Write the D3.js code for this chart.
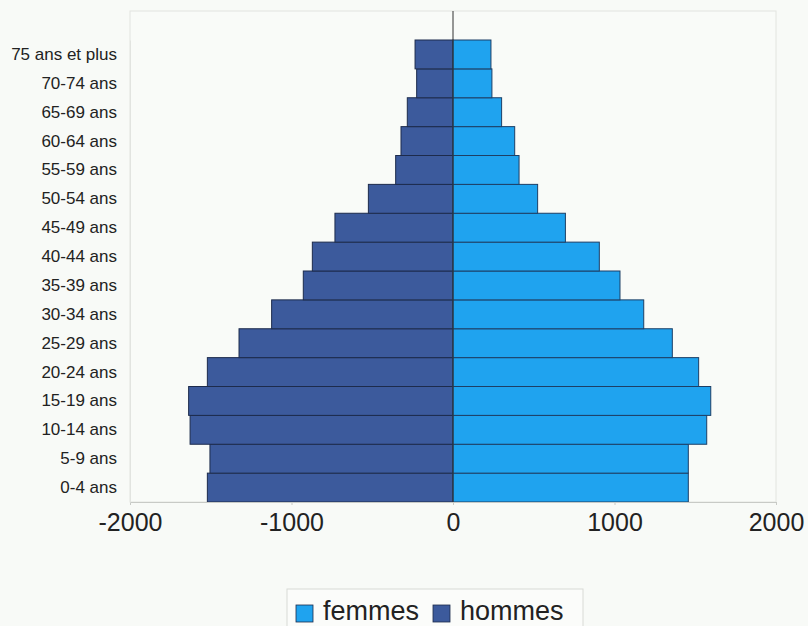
<!DOCTYPE html>
<html>
<head>
<meta charset="utf-8">
<script src="https://cdn.jsdelivr.net/npm/d3@7"></script>
<style>
  body { margin: 0; background: #f8faf7; }
  text { font-family: Arial, "Liberation Sans", sans-serif; fill: #222; }
</style>
</head>
<body>
<div id="chart"></div>
<script>
// Age groups, bottom to top
const ageGroups = ["0-4 ans", "5-9 ans", "10-14 ans", "15-19 ans", "20-24 ans", "25-29 ans",
  "30-34 ans", "35-39 ans", "40-44 ans", "45-49 ans", "50-54 ans", "55-59 ans",
  "60-64 ans", "65-69 ans", "70-74 ans", "75 ans et plus"];
// hommes drawn as negative values
const hommes = [-1521, -1505, -1628, -1637, -1521, -1325, -1123, -927, -871, -731, -524, -355, -322, -283, -225, -235];
const femmes = [1457, 1457, 1571, 1596, 1521, 1358, 1181, 1034, 906, 696, 524, 409, 382, 301, 241, 235];
const xTicks = [-2000, -1000, 0, 1000, 2000];
const seriesNames = ["femmes", "hommes"];
const colors = { femmes: "#1fa3ef", hommes: "#3c5a9c" };

const W = 808, H = 626;
const plot = { left: 130, right: 776, top: 11, bottom: 502 };

const svg = d3.select("#chart").append("svg")
  .attr("width", W).attr("height", H);

// plot area frame
svg.append("rect")
  .attr("x", plot.left).attr("y", plot.top)
  .attr("width", plot.right - plot.left).attr("height", plot.bottom - plot.top)
  .attr("fill", "#f9fbf8").attr("stroke", "#e2e4e0");

const x = d3.scaleLinear().domain([-2000, 2000]).range([plot.left, plot.right]);
const y = d3.scaleBand().domain(ageGroups).range([plot.bottom, 40]).padding(0);

const rows = ageGroups.map((g, i) => ({ g, h: hommes[i], f: femmes[i] }));

// hommes bars
svg.selectAll(".bar-h")
  .data(rows)
  .join("rect")
  .attr("class", "bar-h")
  .attr("x", d => x(d.h))
  .attr("y", d => y(d.g))
  .attr("width", d => x(0) - x(d.h))
  .attr("height", y.bandwidth())
  .attr("fill", colors.hommes)
  .attr("stroke", "#1d2b4c").attr("stroke-width", 1);

// femmes bars
svg.selectAll(".bar-f")
  .data(rows)
  .join("rect")
  .attr("class", "bar-f")
  .attr("x", x(0))
  .attr("y", d => y(d.g))
  .attr("width", d => x(d.f) - x(0))
  .attr("height", y.bandwidth())
  .attr("fill", colors.femmes)
  .attr("stroke", "#1d3f66").attr("stroke-width", 1);

// zero line
svg.append("line")
  .attr("x1", x(0)).attr("x2", x(0))
  .attr("y1", plot.top).attr("y2", plot.bottom)
  .attr("stroke", "#333").attr("stroke-width", 1);

// x axis
const xAxis = svg.append("g")
  .attr("transform", `translate(0,${plot.bottom})`)
  .call(d3.axisBottom(x).tickValues(xTicks).tickSize(3).tickPadding(8).tickFormat(d => String(d)));
xAxis.select(".domain").attr("stroke", "#c8cac6");
xAxis.selectAll(".tick line").attr("stroke", "#c8cac6");
xAxis.selectAll("text")
  .style("font-size", "25px").attr("fill", "#222");

// y labels
const yAxis = svg.append("g")
  .attr("transform", `translate(${plot.left},0)`)
  .call(d3.axisLeft(y).tickSize(0).tickPadding(13));
yAxis.select(".domain").attr("stroke", "#e2e4e0");
yAxis.selectAll("text").style("font-size", "17px").attr("fill", "#222");

// legend
const legend = svg.append("g").attr("transform", "translate(287,589)");
legend.append("rect")
  .attr("x", 0).attr("y", 0).attr("width", 296).attr("height", 45)
  .attr("fill", "#fbfcfa").attr("stroke", "#d8dad6");
const legendX = [9, 146];
seriesNames.forEach((s, i) => {
  const g = legend.append("g").attr("transform", `translate(${legendX[i]},0)`);
  g.append("rect")
    .attr("x", 0).attr("y", 16).attr("width", 17).attr("height", 17)
    .attr("fill", colors[s]).attr("stroke", "#1d2b4c").attr("stroke-width", 0.8);
  g.append("text")
    .attr("x", 27).attr("y", 31)
    .style("font-size", "27px")
    .text(s);
});
</script>
</body>
</html>
